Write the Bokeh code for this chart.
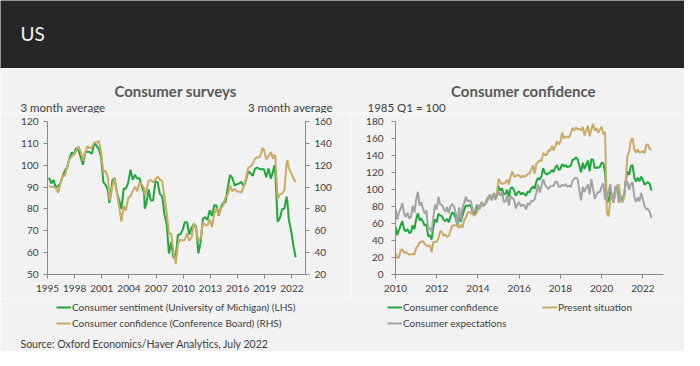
from bokeh.plotting import figure
from bokeh.models import Range1d, LinearAxis, FixedTicker, Label, Legend, LegendItem
from bokeh.layouts import column, row
from bokeh.embed import file_html
from bokeh.resources import INLINE

# ---------------- data ----------------
# Left chart: 3-month averages, quarterly (quarter-end months), 1995Q1 .. 2022Q2
mich_q = [94.3, 91.7, 93.2, 89.8, 90.5, 91.5, 94.9, 97.5, 99.0, 103.0, 105.8, 105.0,
          107.8, 106.9, 103.5, 100.2, 105.9, 106.2, 105.9, 105.3, 110.1, 108.8, 107.5, 103.9,
          92.3, 91.0, 88.6, 85.1, 93.1, 94.1, 87.3, 83.8, 80.0, 89.3, 89.3, 92.0,
          98.0, 93.3, 95.6, 93.9, 94.1, 90.2, 87.5, 82.4, 88.9, 83.8, 84.0, 92.5,
          92.2, 86.9, 85.7, 77.5, 72.9, 59.6, 64.8, 57.7, 58.3, 68.2, 68.4, 70.2,
          73.9, 73.9, 68.3, 71.3, 73.1, 71.9, 59.7, 64.8, 75.5, 76.3, 75.0, 79.4,
          76.7, 81.7, 81.6, 76.9, 80.9, 82.8, 83.0, 89.8, 95.5, 94.2, 90.7, 91.3,
          91.6, 92.4, 90.3, 93.1, 97.2, 96.4, 95.1, 98.4, 98.9, 98.3, 98.1, 98.1,
          94.5, 98.5, 93.8, 97.2, 96.6, 74.1, 75.7, 79.8, 80.2, 85.6, 74.8, 69.9,
          63.1, 57.9]
cb_q = [100.3, 100.4, 100.4, 99.0, 94.9, 102.8, 110.3, 110.3, 118.7, 125.4, 128.0, 129.2,
        133.2, 137.2, 132.2, 124.1, 132.0, 137.4, 135.5, 136.4, 140.9, 140.5, 142.1, 132.6,
        113.9, 115.0, 109.1, 88.3, 101.2, 108.4, 95.2, 81.7, 68.3, 82.7, 78.6, 89.7,
        91.6, 96.3, 100.4, 96.1, 104.2, 102.3, 98.9, 95.8, 105.7, 106.6, 104.4, 106.8,
        109.9, 106.7, 105.7, 91.2, 76.5, 57.3, 57.3, 40.7, 29.9, 48.3, 51.8, 51.0,
        51.7, 57.8, 50.9, 53.7, 66.9, 61.8, 50.3, 53.6, 67.5, 65.3, 65.0, 70.4,
        63.3, 75.5, 80.8, 74.0, 80.5, 83.4, 90.9, 92.7, 101.3, 96.2, 98.3, 96.0,
        96.0, 94.8, 100.4, 108.0, 117.5, 118.6, 121.2, 126.0, 127.1, 127.4, 132.6, 133.9,
        125.3, 128.3, 132.0, 126.0, 127.4, 89.9, 93.1, 94.3, 96.8, 122.1, 117.4, 112.8,
        108.0, 104.6]
# a few extra monthly 3-month-average readings at turning points
extra_months = ["2001-11", "2005-10", "2018-10", "2020-02", "2021-07"]
extra_mich = [82.8, 80.1, 98.3, 100.0, 83.2]
extra_cb = [89.1, 92.7, 136.0, 129.6, 124.5]

# Right chart: monthly, 2010-01 .. 2022-06 (1985 Q1 = 100)
confidence = [56.5, 46.4, 52.3, 57.7, 62.7, 52.9, 51.0, 53.2, 48.6, 49.9, 57.8, 53.3,
              64.8, 72.0, 63.8, 66.0, 61.7, 57.6, 59.2, 45.2, 46.4, 40.9, 55.2, 64.8,
              61.5, 71.6, 69.5, 68.7, 64.4, 62.7, 65.4, 61.3, 68.4, 73.1, 71.5, 66.7,
              58.4, 69.6, 61.9, 69.0, 76.2, 81.4, 80.3, 81.8, 80.2, 72.4, 72.0, 77.5,
              79.4, 78.3, 83.9, 81.7, 82.2, 86.4, 90.3, 93.4, 89.0, 94.1, 91.0, 93.1,
              103.8, 98.8, 101.4, 94.3, 94.6, 99.8, 91.0, 101.3, 102.6, 99.1, 92.6, 96.3,
              97.8, 94.0, 96.1, 94.7, 92.4, 97.4, 96.7, 101.1, 103.5, 100.8, 109.4, 113.7,
              111.6, 116.1, 124.9, 119.4, 117.6, 118.9, 120.0, 122.9, 120.6, 126.2, 128.6, 123.1,
              124.3, 130.0, 127.0, 128.8, 126.4, 127.1, 127.9, 134.7, 135.3, 137.9, 135.7, 128.1,
              120.2, 131.4, 124.2, 129.2, 134.1, 121.5, 135.8, 135.1, 125.1, 125.9, 125.5, 126.5,
              131.6, 130.7, 120.0, 85.7, 85.9, 98.1, 92.6, 84.8, 101.8, 101.4, 92.9, 88.6,
              89.3, 91.3, 109.7, 121.7, 117.2, 127.3, 129.1, 113.8, 109.3, 113.8, 109.5, 115.2,
              111.1, 105.7, 107.2, 108.6, 106.4, 98.7]
present = [25.2, 19.4, 20.2, 28.2, 29.8, 25.5, 26.4, 24.9, 23.1, 23.9, 24.0, 23.5,
           31.1, 33.3, 37.7, 38.5, 39.3, 36.2, 34.0, 33.3, 34.3, 26.3, 38.3, 38.3,
           38.8, 42.0, 51.0, 50.1, 45.6, 47.0, 44.3, 45.3, 51.5, 57.5, 58.0, 57.7,
           57.7, 54.9, 58.7, 54.9, 64.0, 66.9, 73.0, 73.6, 72.2, 70.7, 69.2, 71.8,
           76.1, 80.8, 81.7, 80.2, 83.3, 85.0, 88.2, 93.5, 92.0, 91.3, 94.8, 95.1,
           112.6, 108.8, 106.5, 107.2, 108.1, 111.6, 105.9, 115.3, 121.1, 115.4, 115.3, 117.0,
           116.6, 114.0, 116.4, 114.6, 116.2, 118.3, 118.8, 123.0, 128.5, 118.8, 130.3, 132.2,
           134.4, 133.4, 143.1, 140.6, 140.7, 146.3, 145.4, 151.2, 145.9, 151.1, 156.5, 153.0,
           156.5, 167.1, 159.9, 162.2, 161.7, 161.1, 165.9, 172.2, 169.4, 172.8, 170.9, 171.6,
           169.6, 173.5, 163.4, 169.4, 175.2, 162.6, 170.9, 177.2, 169.0, 172.3, 166.6, 170.5,
           173.9, 165.1, 167.7, 73.0, 68.4, 86.2, 95.9, 84.2, 98.5, 104.6, 105.9, 89.2,
           84.4, 89.6, 110.0, 139.6, 144.3, 157.7, 160.3, 147.3, 143.4, 147.0, 143.6, 144.1,
           145.1, 143.0, 153.0, 152.6, 147.4, 147.1]
expectations = [77.3, 64.8, 73.0, 77.3, 84.0, 71.9, 67.7, 72.7, 65.9, 67.9, 80.8, 73.2,
                87.8, 97.2, 81.1, 84.9, 77.3, 71.8, 75.4, 53.2, 54.9, 50.0, 66.5, 82.2,
                76.6, 91.4, 82.5, 81.9, 77.6, 73.8, 79.5, 72.2, 79.9, 83.0, 80.5, 72.7,
                58.9, 79.0, 64.2, 78.5, 84.3, 91.7, 85.8, 87.3, 85.5, 73.5, 73.9, 81.2,
                81.7, 76.7, 85.4, 82.7, 81.5, 87.4, 91.3, 93.3, 87.0, 96.0, 88.0, 91.6,
                97.6, 92.8, 97.4, 85.6, 85.6, 92.6, 81.0, 92.0, 90.0, 88.0, 77.7, 82.2,
                85.3, 80.0, 82.1, 81.2, 76.5, 83.7, 81.9, 86.5, 86.3, 88.8, 96.1, 105.5,
                96.4, 104.6, 112.1, 105.9, 102.9, 100.5, 103.7, 104.0, 104.4, 108.9, 109.2, 103.2,
                103.5, 105.6, 104.4, 106.4, 103.2, 104.6, 102.9, 109.7, 112.8, 114.0, 112.3, 98.9,
                87.3, 103.1, 97.2, 102.2, 106.0, 94.2, 112.2, 100.6, 89.1, 94.2, 97.1, 97.1,
                103.5, 107.0, 88.0, 94.3, 97.4, 106.3, 90.7, 85.5, 104.1, 99.3, 84.4, 89.0,
                92.5, 92.1, 109.6, 109.1, 99.6, 107.0, 108.4, 91.4, 85.5, 90.7, 86.0, 96.0,
                88.1, 80.4, 76.7, 77.2, 73.5, 66.4]

left_x_ticks = [1995, 1998, 2001, 2004, 2007, 2010, 2013, 2016, 2019, 2022]
left_y_ticks = [50, 60, 70, 80, 90, 100, 110, 120]
right_axis_ticks = [20, 40, 60, 80, 100, 120, 140, 160]
right_x_ticks = [2010, 2012, 2014, 2016, 2018, 2020, 2022]
right_y_ticks = [0, 20, 40, 60, 80, 100, 120, 140, 160, 180]

left_names = ["Consumer sentiment (University of Michigan) (LHS)",
              "Consumer confidence (Conference Board) (RHS)"]
right_names = ["Consumer confidence", "Present situation", "Consumer expectations"]

# ---------------- helpers ----------------
def dec_year(s):
    y, m = s.split("-")
    return int(y) + (int(m) - 1) / 12.0

q_months = [f"{y}-{m:02d}" for y in range(1995, 2023) for m in (3, 6, 9, 12)][:len(mich_q)]
pairs = sorted(zip(q_months + extra_months, mich_q + extra_mich, cb_q + extra_cb),
               key=lambda t: dec_year(t[0]))
lx = [dec_year(t[0]) for t in pairs]
l_mich = [t[1] for t in pairs]
l_cb = [t[2] for t in pairs]

r_months = [f"{y}-{m:02d}" for y in range(2010, 2023) for m in range(1, 13)][:len(confidence)]
rx = [dec_year(s) for s in r_months]

BG = "#f2f2f2"
GREEN = "#1fa83a"
GOLD = "#c9ab66"
GREY = "#a3a3a3"
TXT = "#404040"
AX = "#8a8a8a"
FONT = "Lato"
TICK_SIZE = "10px"


def style_axis(ax, standoff=4):
    ax.axis_line_color = AX
    ax.major_tick_line_color = AX
    ax.major_tick_out = 4
    ax.major_tick_in = 0
    ax.minor_tick_line_color = None
    ax.major_label_text_color = TXT
    ax.major_label_text_font = FONT
    ax.major_label_text_font_size = TICK_SIZE
    ax.major_label_standoff = standoff


def add_label(p, x, y, text, size="11px", bold=False, align="left", color=TXT):
    p.add_layout(Label(x=x, y=y, x_units="screen", y_units="screen", text=text,
                       text_font=FONT, text_font_size=size, text_color=color,
                       text_font_style="bold" if bold else "normal",
                       text_align=align, text_baseline="middle"))


def make_legend(items, loc, ncols=1, label_width=20):
    lg = Legend(items=items, location=loc, ncols=ncols,
                orientation="horizontal" if ncols > 1 else "vertical")
    lg.background_fill_alpha = 0
    lg.border_line_color = None
    lg.padding = 0
    lg.margin = 0
    lg.spacing = 2
    lg.glyph_width = 15
    lg.glyph_height = 14
    lg.label_height = 14
    lg.label_standoff = 1
    lg.label_width = label_width
    lg.label_text_font = FONT
    lg.label_text_font_size = "10px"
    lg.label_text_color = TXT
    return lg


def band(height, fill):
    b = figure(width=684, height=height, x_range=(0, 1), y_range=(0, 1), toolbar_location=None,
               output_backend="svg", min_border=0, x_axis_location=None, y_axis_location=None,
               background_fill_color=fill, border_fill_color=fill, outline_line_color=None)
    b.grid.visible = False
    return b

# ---------------- header ----------------
hdr = band(68, "#262626")
add_label(hdr, 20, 35, "US", size="19px", color="#f2f2f2")

# ---------------- titles band ----------------
tb = band(45, BG)
add_label(tb, 175, 23, "Consumer surveys", size="15px", bold=True, color="#595959", align="center")
add_label(tb, 20, 6, "3 month average", size="11.5px")
add_label(tb, 332, 6, "3 month average", size="11.5px", align="right")
add_label(tb, 523, 23, "Consumer confidence", size="15px", bold=True, color="#595959", align="center")
add_label(tb, 367, 6, "1985 Q1 = 100", size="11.5px")

# ---------------- left chart ----------------
p1 = figure(frame_width=258, frame_height=153, min_border_left=47, min_border_right=45,
            min_border_top=8, min_border_bottom=24,
            x_range=Range1d(1995, 2023.5), y_range=Range1d(50, 120),
            toolbar_location=None, output_backend="svg",
            background_fill_color=BG, border_fill_color=BG, outline_line_color=None)
p1.grid.visible = False
p1.extra_y_ranges = {"rhs": Range1d(20, 160)}
p1.add_layout(LinearAxis(y_range_name="rhs"), "right")
p1.xaxis.ticker = FixedTicker(ticks=left_x_ticks)
p1.yaxis[0].ticker = FixedTicker(ticks=left_y_ticks)
p1.yaxis[1].ticker = FixedTicker(ticks=right_axis_ticks)
for ax in p1.xaxis:
    style_axis(ax, standoff=6)
for ax in p1.yaxis:
    style_axis(ax, standoff=5)

p1.line(lx, l_mich, color=GREEN, line_width=2)
p1.line(lx, l_cb, color=GOLD, line_width=2, y_range_name="rhs")

# ---------------- right chart ----------------
p2 = figure(frame_width=268, frame_height=153, min_border_left=45, min_border_right=21,
            min_border_top=8, min_border_bottom=24,
            x_range=Range1d(2010, 2023), y_range=Range1d(0, 180),
            toolbar_location=None, output_backend="svg",
            background_fill_color=BG, border_fill_color=BG, outline_line_color=None)
p2.grid.visible = False
p2.xaxis.ticker = FixedTicker(ticks=right_x_ticks)
p2.yaxis.ticker = FixedTicker(ticks=right_y_ticks)
for ax in p2.xaxis:
    style_axis(ax, standoff=6)
for ax in p2.yaxis:
    style_axis(ax, standoff=8)

p2.line(rx, confidence, color=GREEN, line_width=2)
p2.line(rx, present, color=GOLD, line_width=2)
p2.line(rx, expectations, color=GREY, line_width=2)

# ---------------- legends + source band ----------------
# The legend keys live in this band: the same series are drawn here, but they fall
# entirely outside this band's 0..1 ranges, so only their legend swatches show.
fb = band(53, BG)
k1 = fb.line(lx, l_mich, color=GREEN, line_width=2)
k2 = fb.line(lx, l_cb, color=GOLD, line_width=2)
k3 = fb.line(rx, confidence, color=GREEN, line_width=2)
k4 = fb.line(rx, present, color=GOLD, line_width=2)
k5 = fb.line(rx, expectations, color=GREY, line_width=2)
fb.add_layout(make_legend([LegendItem(label=left_names[0], renderers=[k1]),
                           LegendItem(label=left_names[1], renderers=[k2])], (56, 21)))
fb.add_layout(make_legend([LegendItem(label=right_names[0], renderers=[k3]),
                           LegendItem(label=right_names[1], renderers=[k4]),
                           LegendItem(label=right_names[2], renderers=[k5])],
                          (387, 21), ncols=2, label_width=137))
add_label(fb, 20, 8, "Source: Oxford Economics/Haver Analytics, July 2022", size="10.5px")

layout = column(hdr, tb, row(p1, p2, spacing=0), fb, spacing=0)

open("out.html", "w").write(file_html(layout, INLINE))
